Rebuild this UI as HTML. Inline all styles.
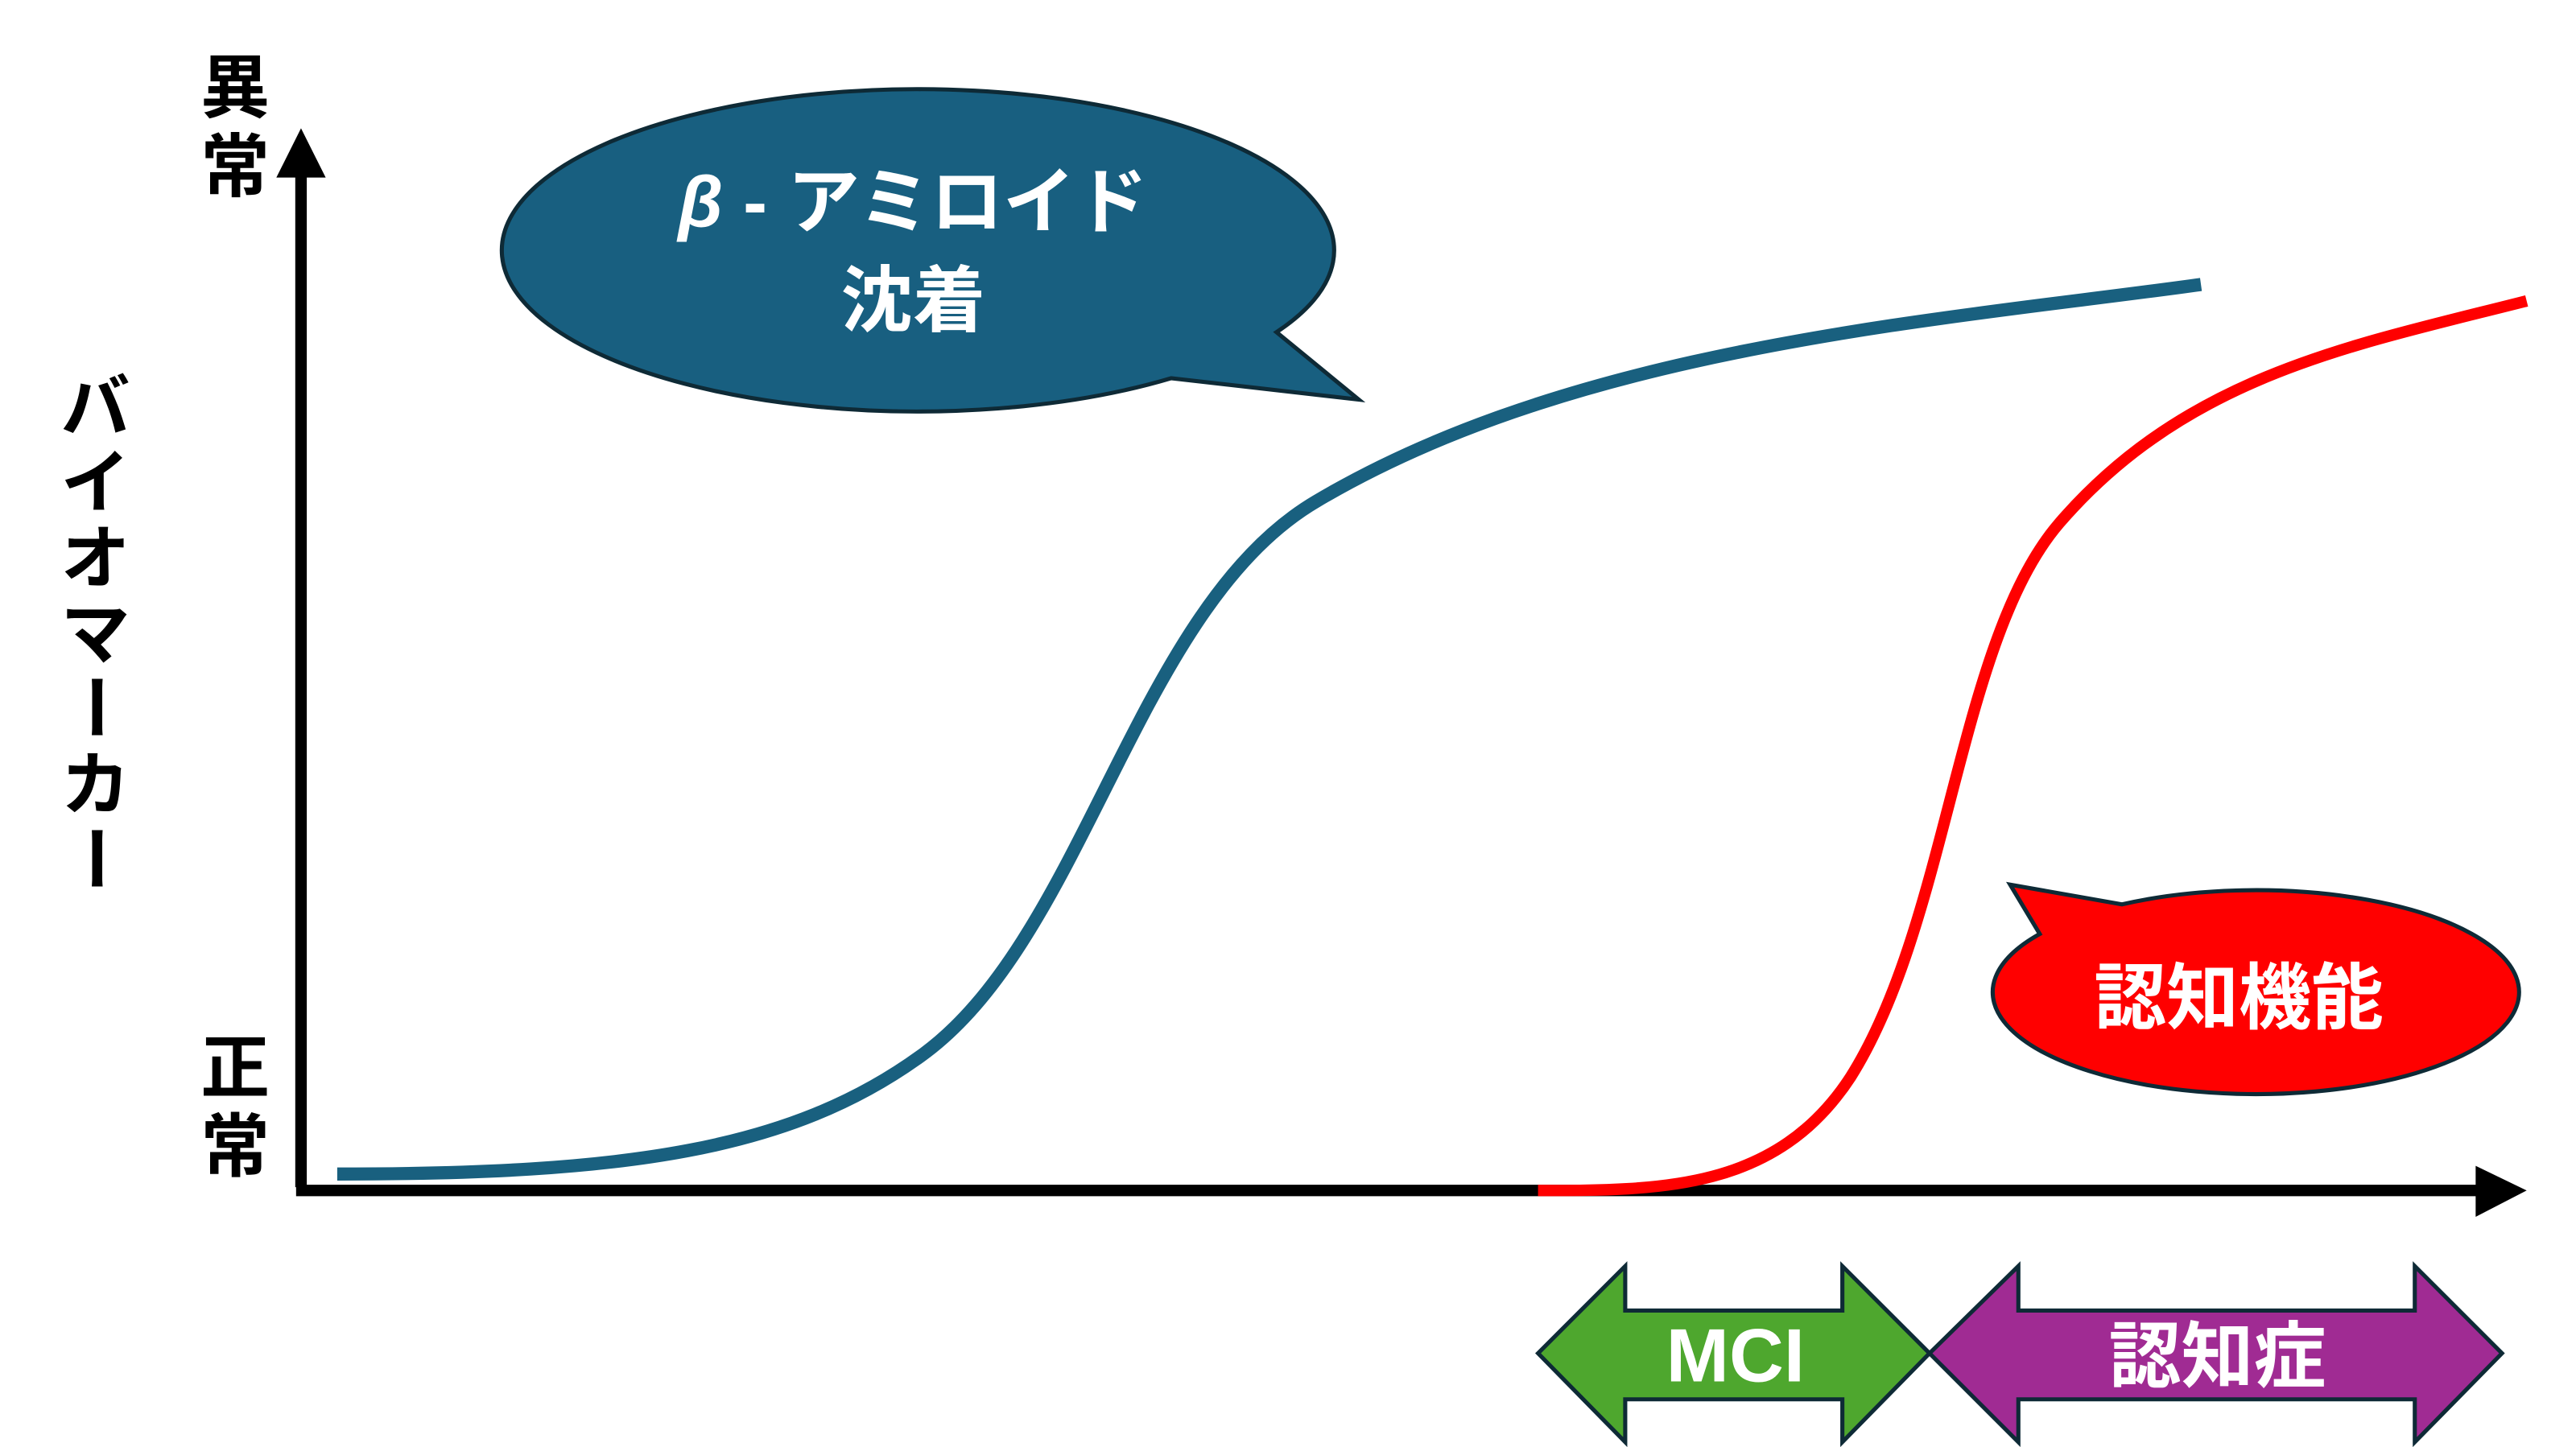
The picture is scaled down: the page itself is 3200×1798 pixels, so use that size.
<!DOCTYPE html>
<html><head><meta charset="utf-8"><style>
html,body{margin:0;padding:0;background:#fff;width:3200px;height:1798px;overflow:hidden}
svg{display:block}
text{font-family:"Liberation Sans","Noto Sans CJK JP",sans-serif;font-weight:bold}
</style></head><body>
<svg width="3200" height="1798" viewBox="0 0 1566 880" preserveAspectRatio="none" xmlns="http://www.w3.org/2000/svg">
<!-- axes -->
<line x1="183" y1="722" x2="183" y2="104" stroke="#000" stroke-width="7"/>
<polygon points="168,108 198,108 183,78" fill="#000"/>
<line x1="180" y1="724" x2="1507" y2="724" stroke="#000" stroke-width="7"/>
<polygon points="1505,709 1505,740 1536,724" fill="#000"/>
<!-- curves -->
<path d="M205,714 C380,714 480,700 560,642 C660,570 690,370 800,305 C960,210 1180,195 1338,173" fill="none" stroke="#19607f" stroke-width="8"/>
<path d="M935,724 C1010,724 1080,724 1125,655 C1185,560 1190,390 1252,318 C1330,228 1430,210 1536,183" fill="none" stroke="#ff0000" stroke-width="7"/>
<!-- blue bubble -->
<path d="M712,230 A253,98 0 1 1 776,202 L826,243 Z" fill="#185f80" stroke="#0e2a36" stroke-width="2.5"/>
<text x="555" y="138" font-size="44" fill="#fff" text-anchor="middle"><tspan font-style="italic">β</tspan> - アミロイド</text>
<text x="555" y="198" font-size="44" fill="#fff" text-anchor="middle">沈着</text>
<!-- red bubble -->
<path d="M1290,550 A160,62 0 1 1 1240,568 L1222,538 Z" fill="#ff0000" stroke="#0e2a36" stroke-width="2.5"/>
<text x="1361" y="622" font-size="44" fill="#fff" text-anchor="middle">認知機能</text>
<!-- axis labels -->
<text x="143" y="68" font-size="42" fill="#000" text-anchor="middle">異</text>
<text x="143" y="116" font-size="42" fill="#000" text-anchor="middle">常</text>
<text x="143" y="664" font-size="42" fill="#000" text-anchor="middle">正</text>
<text x="143" y="712" font-size="42" fill="#000" text-anchor="middle">常</text>
<g font-size="42" fill="#000" text-anchor="middle">
<text x="58" y="262">バ</text>
<text x="58" y="308">イ</text>
<text x="58" y="354">オ</text>
<text x="58" y="400">マ</text>
<text x="0" y="15" transform="translate(58,430) rotate(90)">ー</text>
<text x="58" y="492">カ</text>
<text x="0" y="15" transform="translate(58,522) rotate(90)">ー</text>
</g>
<!-- MCI arrow -->
<polygon points="935,823 988,770 988,797 1120,797 1120,770 1173,823 1120,877 1120,851 988,851 988,877" fill="#4ea72e" stroke="#0e2a36" stroke-width="2.5"/>
<text x="1055" y="840" font-size="46" fill="#fff" text-anchor="middle">MCI</text>
<!-- dementia arrow -->
<polygon points="1173,823 1227,770 1227,797 1468,797 1468,770 1521,823 1468,877 1468,851 1227,851 1227,877" fill="#a02b93" stroke="#0e2a36" stroke-width="2.5"/>
<text x="1348" y="840" font-size="44" fill="#fff" text-anchor="middle">認知症</text>
</svg>
</body></html>
